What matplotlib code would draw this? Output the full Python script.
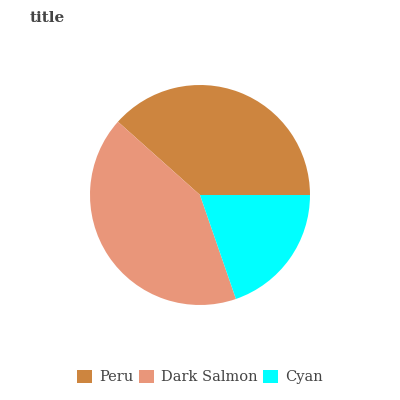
import matplotlib.pyplot as plt

labels = ['Peru', 'Dark Salmon', 'Cyan']
values = [38.4, 41.9, 19.7]
colors = ['#cd853f', '#e9967a', '#00ffff']

plt.rcParams['font.family'] = 'DejaVu Serif'

fig = plt.figure(figsize=(4, 4), dpi=100)
ax = fig.add_axes([0.225, 0.2375, 0.55, 0.55])
wedges, _ = ax.pie(values, colors=colors, startangle=0, counterclock=True)
ax.set_xlim(-1, 1)
ax.set_ylim(-1, 1)
ax.set_aspect('equal')

fig.text(0.075, 0.955, 'title', fontsize=11, fontweight='bold', color='#444444', va='center')

fig.legend(wedges, labels, loc='center', bbox_to_anchor=(0.5, 0.058), ncol=3,
           frameon=False, fontsize=10.5, handlelength=1.0, handleheight=1.0,
           columnspacing=0.4, handletextpad=0.5, labelcolor='#444444')

fig.savefig('out.png')
